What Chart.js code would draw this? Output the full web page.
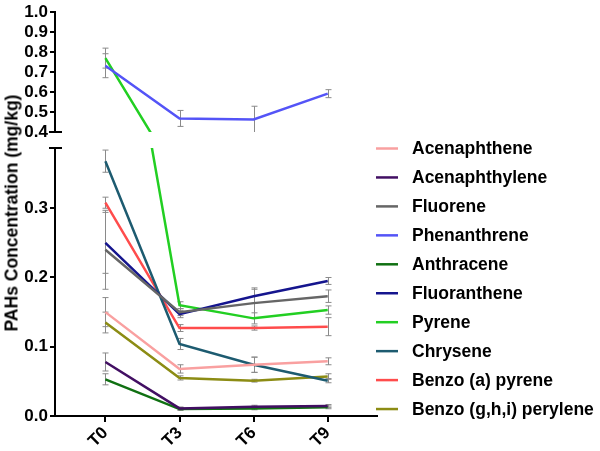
<!DOCTYPE html>
<html>
<head>
<meta charset="utf-8">
<script src="https://cdn.jsdelivr.net/npm/chart.js@4.4.1/dist/chart.umd.min.js"></script>
<style>
  html, body { margin: 0; padding: 0; background: #fff; }
  #wrap { position: relative; width: 600px; height: 451px; overflow: hidden; }
  #wrap canvas { position: absolute; left: 0; top: 0; }
  #ytitle {
    position: absolute; left: 12px; top: 213px;
    transform: translate(-50%, -50%) rotate(-90deg);
    white-space: nowrap;
    font: bold 17.5px "Liberation Sans", Arial, sans-serif;
    color: #000;
  }
</style>
</head>
<body>
<div id="wrap">
  <canvas id="topChart" width="600" height="451"></canvas>
  <canvas id="bottomChart" width="600" height="451"></canvas>
  <div id="ytitle">PAHs Concentration (mg/kg)</div>
</div>
<script>
// ===== DATA =====
const timeLabels = ["T0", "T3", "T6", "T9"];

const acenaphthene     = [0.150, 0.068, 0.074, 0.079];
const acenaphthylene   = [0.078, 0.011, 0.0135, 0.0145];
const fluorene         = [0.240, 0.150, 0.163, 0.173];
const phenanthrene     = [0.732, 0.468, 0.463, 0.592];
const anthracene       = [0.053, 0.010, 0.011, 0.0125];
const fluoranthene     = [0.250, 0.147, 0.173, 0.195];
const pyrene           = [0.770, 0.160, 0.141, 0.153];
const chrysene         = [0.368, 0.104, 0.074, 0.051];
const benzoAPyrene     = [0.308, 0.127, 0.127, 0.129];
const benzoGhiPerylene = [0.135, 0.055, 0.051, 0.057];

// standard deviations (error bars)
const acenaphtheneErr     = [0.021, 0.006, 0.011, 0.005];
const acenaphthyleneErr   = [0.013, 0.002, 0.002, 0.002];
const fluoreneErr         = [0.057, 0.005, 0.022, 0.009];
const phenanthreneErr     = [0.060, 0.040, 0.066, 0.020];
const anthraceneErr       = [0.008, 0.002, 0.002, 0.002];
const fluorantheneErr     = [0.044, 0.005, 0.010, 0.005];
const pyreneErr           = [0.050, 0.005, 0.008, 0.006];
const chryseneErr         = [0.016, 0.008, 0.011, 0.003];
const benzoAPyreneErr     = [0.008, 0.005, 0.003, 0.013];
const benzoGhiPeryleneErr = [0.015, 0.003, 0.002, 0.004];

const topTicks = [0.4, 0.5, 0.6, 0.7, 0.8, 0.9, 1.0];
const bottomTicks = [0, 0.1, 0.2, 0.3];

const series = [
  { name: "Acenaphthene",           values: acenaphthene,     err: acenaphtheneErr,     color: "#f9a0a0" },
  { name: "Acenaphthylene",         values: acenaphthylene,   err: acenaphthyleneErr,   color: "#420f63" },
  { name: "Fluorene",               values: fluorene,         err: fluoreneErr,         color: "#666666" },
  { name: "Phenanthrene",           values: phenanthrene,     err: phenanthreneErr,     color: "#5454f7" },
  { name: "Anthracene",             values: anthracene,       err: anthraceneErr,       color: "#107012" },
  { name: "Fluoranthene",           values: fluoranthene,     err: fluorantheneErr,     color: "#15158e" },
  { name: "Pyrene",                 values: pyrene,           err: pyreneErr,           color: "#22cf22" },
  { name: "Chrysene",               values: chrysene,         err: chryseneErr,         color: "#1d5b70" },
  { name: "Benzo (a) pyrene",       values: benzoAPyrene,     err: benzoAPyreneErr,     color: "#ff4c4c" },
  { name: "Benzo (g,h,i) perylene", values: benzoGhiPerylene, err: benzoGhiPeryleneErr, color: "#8c8c14" }
];

// ===== GLOBAL CONFIG =====
const FONT = '"Liberation Sans", Arial, sans-serif';
Chart.defaults.font.family = FONT;
Chart.defaults.font.size = 17;
Chart.defaults.font.weight = "bold";
Chart.defaults.color = "#000";

function makeDatasets() {
  return series.map(s => ({
    label: s.name,
    data: s.values.map((v, i) => ({ x: i, y: v })),
    errors: s.err,
    borderColor: s.color,
    backgroundColor: s.color,
    borderWidth: 2.5,
    pointRadius: 0,
    tension: 0,
    clip: 0
  }));
}

// error bars, drawn under the lines
const errorBars = {
  id: "errorBars",
  beforeDatasetsDraw(chart) {
    const ctx = chart.ctx;
    const area = chart.chartArea;
    const xs = chart.scales.x, ys = chart.scales.y;
    ctx.save();
    ctx.beginPath();
    ctx.rect(area.left, area.top, area.right - area.left, area.bottom - area.top);
    ctx.clip();
    ctx.strokeStyle = "#8a8a8a";
    ctx.lineWidth = 1;
    chart.data.datasets.forEach(ds => {
      ds.data.forEach((p, i) => {
        const e = ds.errors[i];
        const x = Math.round(xs.getPixelForValue(p.x)) + 0.5;
        const y1 = ys.getPixelForValue(p.y + e);
        const y2 = ys.getPixelForValue(p.y - e);
        ctx.beginPath();
        ctx.moveTo(x, y1); ctx.lineTo(x, y2);
        ctx.moveTo(x - 3, y1); ctx.lineTo(x + 3, y1);
        ctx.moveTo(x - 3, y2); ctx.lineTo(x + 3, y2);
        ctx.stroke();
      });
    });
    ctx.restore();
  }
};

// little caps at the break of the y axis
function breakCap(where) {
  return {
    id: "breakCap",
    afterDraw(chart) {
      const ctx = chart.ctx;
      const a = chart.chartArea;
      const y = where === "bottom" ? a.bottom : a.top;
      ctx.save();
      ctx.strokeStyle = "#000";
      ctx.lineWidth = 2;
      ctx.beginPath();
      ctx.moveTo(a.left - 6, y);
      ctx.lineTo(a.left + 7, y);
      ctx.stroke();
      ctx.restore();
    }
  };
}

// legend on the right
const sideLegend = {
  id: "sideLegend",
  afterDraw(chart) {
    const ctx = chart.ctx;
    ctx.save();
    ctx.font = "bold 17.5px " + FONT;
    ctx.textBaseline = "middle";
    ctx.textAlign = "left";
    series.forEach((s, i) => {
      const y = 148.5 + i * 28.95;
      ctx.strokeStyle = s.color;
      ctx.lineWidth = 2.5;
      ctx.beginPath();
      ctx.moveTo(376, y);
      ctx.lineTo(398, y);
      ctx.stroke();
      ctx.fillStyle = "#000";
      ctx.fillText(s.name, 412, y + 1);
    });
    ctx.restore();
  }
};

const xMin = -0.68, xMax = 3.665;

function yAxis(min, max, ticks) {
  return {
    type: "linear",
    min: min,
    max: max,
    afterFit: s => { s.width = 55; },
    afterBuildTicks: s => { s.ticks = ticks.map(v => ({ value: v })); },
    border: { display: true, color: "#000", width: 2 },
    grid: { drawOnChartArea: false, drawTicks: true, tickLength: 5, color: "#000", lineWidth: 2 },
    ticks: {
      autoSkip: false,
      padding: 2,
      font: { size: 17, weight: "bold" },
      callback: v => Number(v).toFixed(1)
    }
  };
}

// ===== TOP PANEL (0.4 - 1.0) =====
new Chart(document.getElementById("topChart"), {
  type: "line",
  data: { datasets: makeDatasets() },
  options: {
    responsive: false,
    animation: false,
    layout: { padding: { left: 0, top: 11, right: 223, bottom: 319 } },
    plugins: { legend: { display: false }, tooltip: { enabled: false } },
    scales: {
      x: { type: "linear", min: xMin, max: xMax, display: false },
      y: yAxis(0.4, 1.0, topTicks)
    }
  },
  plugins: [errorBars, breakCap("bottom")]
});

// ===== BOTTOM PANEL (0 - 0.387) =====
new Chart(document.getElementById("bottomChart"), {
  type: "line",
  data: { datasets: makeDatasets() },
  options: {
    responsive: false,
    animation: false,
    layout: { padding: { left: 0, top: 148, right: 223, bottom: 0 } },
    plugins: { legend: { display: false }, tooltip: { enabled: false } },
    scales: {
      x: {
        type: "linear",
        min: xMin,
        max: xMax,
        afterFit: s => { s.height = 35; },
        afterBuildTicks: s => { s.ticks = timeLabels.map((t, i) => ({ value: i })); },
        border: { display: true, color: "#000", width: 2 },
        grid: { drawOnChartArea: false, drawTicks: true, tickLength: 6, color: "#000", lineWidth: 2 },
        ticks: {
          autoSkip: false,
          minRotation: 45,
          maxRotation: 45,
          padding: 1,
          font: { size: 17, weight: "bold" },
          callback: v => timeLabels[v]
        }
      },
      y: yAxis(0, 0.387, bottomTicks)
    }
  },
  plugins: [errorBars, breakCap("top"), sideLegend]
});
</script>
</body>
</html>
